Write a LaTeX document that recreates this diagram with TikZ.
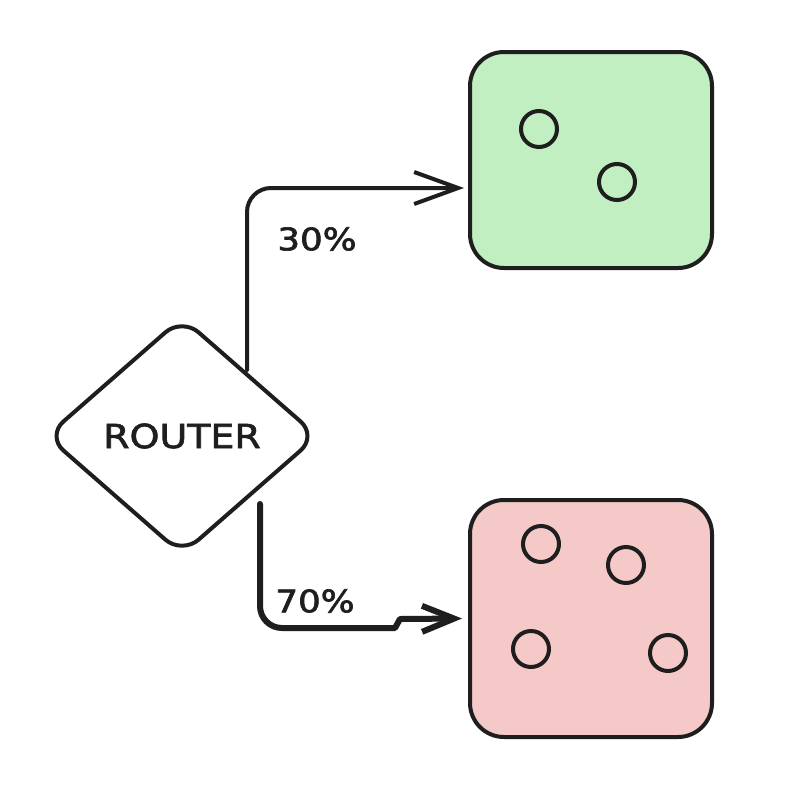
\documentclass[tikz,border=0pt]{standalone}
\usepackage{fontspec}
\newfontfamily\hand{DejaVu Sans}[FakeStretch=1.15,FakeBold=2]
\usetikzlibrary{shapes.geometric,arrows.meta}
\definecolor{ink}{HTML}{1E1E1E}
\definecolor{gfill}{HTML}{C1EFC1}
\definecolor{rfill}{HTML}{F6C9C9}
\tikzset{
  box/.style={draw=ink, line width=4pt, rounded corners=34pt, minimum width=242pt, inner sep=0pt},
  dot/.style={circle, draw=ink, line width=4pt, minimum size=36pt, inner sep=0pt},
  lbl/.style={font=\hand\fontsize{31}{31}\selectfont, text=ink, inner sep=0pt},
  conn/.style={draw=ink, line cap=round, line join=round},
}
\begin{document}
\begin{tikzpicture}[x=1pt,y=-1pt]
\useasboundingbox (0,0) rectangle (804,812);
\fill[white] (0,0) rectangle (804,812);
% router
\node[diamond, draw=ink, line width=4pt, rounded corners=22pt, minimum width=272pt, minimum height=238pt, inner sep=0pt, fill=white, font=\hand\fontsize{33}{33}\selectfont, text=ink] (router) at (182,436) {ROUTER};
% boxes
\node[box, fill=gfill, minimum height=216pt] (green) at (591,160) {};
\node[box, fill=rfill, minimum height=237pt] (red) at (591,618.5) {};
% dots
\node[dot] (g1) at (539,129) {};
\node[dot] (g2) at (617,182) {};
\node[dot] (r1) at (541,544) {};
\node[dot] (r2) at (626,565) {};
\node[dot] (r3) at (531,649) {};
\node[dot] (r4) at (668,653) {};
% connectors
\coordinate (s1) at (247,370);
\coordinate (s2) at (260,504);
\draw[conn, line width=4pt, rounded corners=24pt, -{Straight Barb[length=44pt,width=32pt,line width=4pt]}] (s1) |- ([yshift=-28pt,xshift=-4pt]green.west);
\draw[conn, line width=6pt, -{Straight Barb[length=32pt,width=26pt,line width=6pt]}] (s2) -- (260,606) to[out=-90,in=180] (282,628) -- (395,628) -- (400,619) -- ([xshift=-6pt]red.west);
% labels
\node[lbl] (p30) at (317,239) {30\%};
\node[lbl] (p70) at (315,601) {70\%};
\end{tikzpicture}
\end{document}
